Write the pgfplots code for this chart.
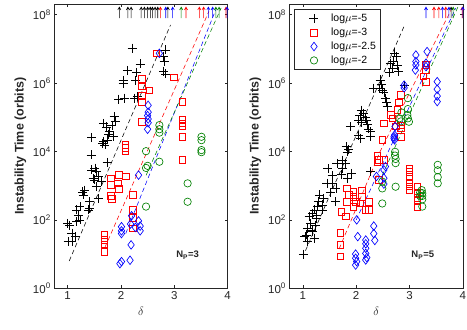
\documentclass[border=0pt]{standalone}
\usepackage{fontspec}
\setmainfont{Liberation Sans}
\usepackage{pgfplots}
\pgfplotsset{compat=1.18}

\definecolor{mgreen}{rgb}{0,0.5,0}
\definecolor{axgray}{rgb}{0.15,0.15,0.15}

% up arrow for runs that never went unstable
\pgfdeclareplotmark{uarrow}{%
  \pgfpathmoveto{\pgfqpoint{0pt}{-5.5pt}}%
  \pgfpathlineto{\pgfqpoint{0pt}{5.5pt}}%
  \pgfpathmoveto{\pgfqpoint{-1.6pt}{2.6pt}}%
  \pgfpathlineto{\pgfqpoint{0pt}{5.5pt}}%
  \pgfpathlineto{\pgfqpoint{1.6pt}{2.6pt}}%
  \pgfusepathqstroke}

\pgfplotsset{
  mypanel/.style={
    scale only axis, width=173.3pt, height=284.3pt,
    xmin=0.75, xmax=4, ymin=1, ymax=2.05e8,
    xtick={1,2,3,4}, xticklabels={1,2,3,4},
    ytick={1,1e2,1e4,1e6,1e8},
    yticklabels={10\textsuperscript{0},10\textsuperscript{2},10\textsuperscript{4},10\textsuperscript{6},10\textsuperscript{8}},
    yminorticks=false, xminorticks=false,
    tick align=inside, major tick length=3pt,
    axis line style={axgray, line width=0.5pt},
    tick style={axgray, line width=0.5pt},
    ticklabel style={font=\fontsize{11.5}{13}\selectfont, text=axgray},
    xlabel={$\delta$},
    ylabel={\textbf{Instability Time (orbits)}},
    xlabel style={font=\fontsize{12}{14}\selectfont, text=axgray},
    ylabel style={font=\fontsize{12.5}{14}\selectfont, text=axgray},
  },
  mklegimg/.style={legend image code/.code={\path (0cm,0cm) (1.12cm,0cm); \draw[##1] plot coordinates {(0.6cm,0cm)};}},
  mkK/.style={only marks, mark=+, mark size=4.5pt, color=black, line width=0.65pt, mklegimg},
  mkR/.style={only marks, mark=square, mark size=3.3pt, color=red, line width=0.65pt, mklegimg},
  mkB/.style={only marks, mark=diamond, mark size=4.3pt, color=blue, line width=0.65pt, mklegimg},
  mkG/.style={only marks, mark=o, mark size=3.7pt, color=mgreen, line width=0.65pt, mklegimg},
  fitline/.style={line width=0.55pt, dash pattern=on 4.5pt off 3pt, forget plot},
  uparr/.style={only marks, mark=uarrow, line width=0.55pt, forget plot},
}

\begin{document}
\begin{tikzpicture}
% ---------------- N_P = 3 ----------------
\begin{axis}[ymode=log, mypanel, name=L]
\addplot[mkK] coordinates {
(2.21,1.05e7) (2.36,3.63e6) (2.12,2.34e6) (2.29,2.04e6) (2.04,1.2e6) (2.04,1.0e6)
(2.27,1.2e6) (1.96,3.39e5) (2.06,3.63e5) (2.25,3.63e5) (2.31,3.98e5) (2.83,9.33e6)
(2.80,6.17e6) (2.81,4.27e6) (2.80,2.24e6) (2.84,1.86e6)
(1.67,6.61e4) (1.87,1.05e5) (1.89,7.41e4) (1.83,5.89e4) (1.73,5.25e4) (1.45,2.57e4)
(1.79,3.80e4) (1.77,3.16e4) (1.67,1.95e4) (1.70,1.55e4) (1.86,2.69e4) (1.75,2.19e4)
(1.66,1.74e4) (1.44,7.94e3) (1.74,4.8e3) (1.45,2.88e3) (1.51,3.24e3) (1.54,2.57e3)
(1.57,1.82e3) (1.48,1.66e3) (1.64,1.32e3) (1.50,1.48e3) (1.54,933) (1.57,427)
(1.32,741) (1.29,537) (1.28,661) (1.41,339) (1.41,219) (1.23,245) (1.17,195)
(1.39,195) (1.20,138) (1.23,100) (1.04,70.8) (1.17,89.1) (1.00,79.4) (1.08,40.7)
(1.01,22.9) (1.08,22.9) (1.14,32.4)
};
\addplot[mkR] coordinates {
(2.66,7.41e6) (2.99,1.48e6) (2.39,1.32e6) (2.39,7.94e5) (2.53,6.17e5) (2.39,4.17e5)
(2.39,2.88e5) (3.15,2.88e5) (2.39,7.41e4) (3.15,8.32e4) (3.15,6.61e4) (3.15,5.62e4)
(3.15,2.69e4) (2.08,1.55e4) (2.08,1.26e4) (2.08,1.0e4) (3.15,5.62e3) (1.81,1.66e3)
(1.96,2.04e3) (2.09,1.86e3) (1.81,1.07e3) (1.94,1.17e3) (1.96,794) (1.81,501)
(1.83,417) (2.22,537) (2.22,195) (2.22,117) (2.22,56.2) (1.69,36.3) (1.69,25.7)
(1.69,19.1) (1.69,11.7)
};
\addplot[mkB] coordinates {
(2.72,7.41e6) (2.51,2.24e5) (2.51,1.41e5) (2.50,1.12e5) (2.51,8.91e4) (2.51,6.92e4)
(2.50,4.47e4) (2.33,2.04e3) (2.20,132) (2.01,63.1) (2.01,47.9) (2.01,39.8) (2.18,75.9)
(2.33,93.3) (2.36,66.1) (2.36,47.9) (2.27,60.3) (2.19,18.6) (1.98,5.25) (2.01,6.03)
(2.17,6.61)
};
\addplot[mkG] coordinates {
(2.72,5.89e4) (2.72,4.47e4) (2.72,3.55e4) (3.51,2.69e4) (3.51,2.14e4) (3.51,1.10e4)
(3.51,9.55e3) (2.47,1.02e4) (2.72,5.01e3) (2.50,3.80e3) (2.47,3.31e3) (3.25,1.17e3)
(3.25,339) (2.47,245)
};
\addplot[fitline, black] coordinates {(1.03,6.31) (2.93,5.01e7)};
\addplot[fitline, red] coordinates {(1.70,15.8) (3.65,1.26e8)};
\addplot[fitline, blue] coordinates {(2.09,39.8) (3.78,1.41e8)};
\addplot[fitline, mgreen] coordinates {(2.47,2.0e3) (3.88,1.58e8)};
\addplot[uparr, black] coordinates {
(1.97,1.15e8) (2.13,1.15e8) (2.19,1.15e8) (2.38,1.15e8) (2.44,1.15e8) (2.50,1.15e8)
(2.55,1.15e8) (2.59,1.15e8) (2.64,1.15e8) (2.69,1.15e8) (2.88,1.15e8)};
\addplot[uparr, red] coordinates {
(2.74,1.15e8) (3.22,1.15e8) (3.47,1.15e8) (3.55,1.15e8) (3.97,1.15e8)};
\addplot[uparr, blue] coordinates {
(2.84,1.15e8) (2.97,1.15e8) (3.64,1.15e8) (3.72,1.15e8) (3.99,1.15e8)};
\addplot[uparr, mgreen] coordinates {
(3.13,1.15e8) (3.78,1.15e8) (3.84,1.15e8)};
\node[font=\bfseries\fontsize{9.5}{11}\selectfont, text=axgray] at (axis cs:3.25,9.3) {N\textsubscript{P}=3};
\end{axis}

% ---------------- N_P = 5 ----------------
\begin{axis}[ymode=log, mypanel, name=R, at={(235.2pt,0pt)},
  legend style={at={(0.028,0.981)}, anchor=north west, draw=axgray, line width=0.5pt,
    font=\fontsize{10.5}{12}\selectfont, inner xsep=2pt, inner ysep=2.5pt, row sep=0.8pt},
  legend cell align=left]
\addplot[mkK] coordinates {
(2.72,7.59e6) (2.75,6.03e6) (2.70,4.47e6) (2.64,3.80e6) (2.77,3.31e6) (2.68,2.63e6)
(2.80,2.24e6) (2.63,2.0e6) (2.45,1.23e6) (2.47,9.33e5) (2.43,7.08e5) (2.49,6.31e5)
(2.33,7.08e5) (2.52,5.25e5) (2.90,8.32e5) (2.55,3.63e5) (2.57,2.82e5) (2.58,2.04e5)
(2.10,1.62e5) (2.13,1.29e5) (2.07,1.12e5) (2.17,9.77e4) (2.05,8.32e4) (2.10,7.08e4)
(2.19,7.94e4) (2.21,6.03e4) (2.23,4.57e4) (1.89,5.37e4) (2.27,2.69e4) (2.26,3.80e4)
(2.05,3.02e4) (2.08,2.40e4) (1.81,1.38e4) (1.83,9.77e3) (1.86,1.12e4) (1.74,5.62e3)
(1.64,4.47e3) (1.80,4.47e3) (1.75,3.16e3) (1.72,2.14e3) (1.91,2.29e3) (1.84,1.66e3)
(2.27,2.57e3) (1.47,3.16e3) (1.55,2.0e3) (1.45,1.17e3) (1.55,1.17e3) (1.62,832)
(1.52,631) (1.61,339) (1.31,537) (1.39,427) (1.29,339) (1.37,275) (1.28,245)
(1.21,195) (1.36,195) (1.18,155) (1.26,138) (1.25,112) (1.12,123) (1.14,79.4)
(1.23,70.8) (1.09,56.2) (1.17,50.1) (1.18,45.7) (1.06,36.3) (1.04,32.4) (1.08,22.9)
(1.21,28.8) (1.01,10)
};
\addlegendentry{log$\mu$=-5}
\addplot[mkR] coordinates {
(3.31,3.39e6) (3.31,2.40e6) (3.26,1.58e6) (3.31,1.10e6) (2.84,4.47e5) (2.80,2.75e5)
(2.77,1.62e5) (2.65,1.17e5) (2.68,9.33e4) (2.52,6.61e4) (2.84,5.89e4) (2.84,4.79e4)
(2.74,5.37e4) (2.84,2.69e4) (2.49,2.19e4) (2.40,7.59e3) (2.43,5.62e3) (2.52,5.62e3)
(2.40,4.79e3) (2.43,1.48e3) (3.00,3.24e3) (3.00,2.51e3) (3.00,1.78e3) (3.00,1.26e3)
(3.00,955) (3.00,741) (3.15,933) (3.15,631) (3.15,447) (3.15,355) (3.15,245)
(1.83,832) (1.86,537) (1.83,339) (1.95,661) (1.95,479) (1.99,339) (1.95,245)
(2.11,741) (2.11,479) (2.08,302) (2.17,195) (2.24,339) (2.24,195) (1.72,174)
(1.81,126) (1.70,42.7) (1.70,18.6) (1.70,8.51)
};
\addlegendentry{log$\mu$=-3}
\addplot[mkB] coordinates {
(3.12,6.61e6) (3.33,8.32e6) (3.12,4.27e6) (3.12,3.39e6) (3.11,2.40e6) (3.31,3.80e6)
(3.31,3.02e6) (3.52,1.10e6) (3.52,6.61e5) (3.52,4.17e5) (3.52,2.88e5) (2.90,8.71e5)
(2.90,7.24e5) (2.73,5.37e4) (2.72,3.02e4) (2.71,2.69e4) (2.71,2.40e4) (2.72,2.19e4)
(2.52,2.88e3) (2.55,3.63e3) (2.52,1.66e3) (2.52,1.12e3) (2.38,1.86e3) (2.01,100)
(2.33,66.1) (2.03,32.4) (2.18,25.7) (2.18,20.0) (2.33,39.8) (2.35,25.1) (1.99,10)
(1.99,7.59) (2.01,6.03) (1.99,4.79) (2.18,14.8) (2.18,10.5) (2.20,7.94) (2.18,6.76)
};
\addlegendentry{log$\mu$=-2.5}
\addplot[mkG] coordinates {
(2.97,3.63e5) (2.97,1.74e5) (2.96,1.17e5) (2.97,9.33e4) (2.99,7.41e4) (2.85,1.38e5)
(2.81,9.33e4) (2.84,7.59e4) (2.73,9.77e3) (2.73,7.59e3) (2.74,6.03e3) (2.74,4.57e3)
(2.74,933) (2.49,832) (2.49,302) (2.49,1.32e3) (3.53,4.07e3) (3.53,2.82e3)
(3.53,1.78e3) (3.53,1.17e3) (3.23,741) (3.24,603) (3.24,501) (3.24,398) (3.24,245)
(3.20,631) (3.20,501)
};
\addlegendentry{log$\mu$=-2}
\addplot[fitline, black] coordinates {(1.05,12.6) (2.91,5.01e7)};
\addplot[fitline, red] coordinates {(1.68,14.1) (2.45,1.0e4) (3.80,1.58e8)};
\addplot[fitline, blue] coordinates {(2.0,100) (3.87,1.58e8)};
\addplot[fitline, mgreen] coordinates {(2.49,2.0e3) (3.91,1.70e8)};
\addplot[uparr, black] coordinates {(3.78,1.15e8)};
\addplot[uparr, red] coordinates {(3.46,1.15e8) (3.55,1.15e8) (3.68,1.15e8) (3.99,1.15e8)};
\addplot[uparr, blue] coordinates {(3.31,1.15e8) (3.62,1.15e8) (3.74,1.15e8) (4.0,1.15e8)};
\addplot[uparr, mgreen] coordinates {(3.82,1.15e8)};
\node[font=\bfseries\fontsize{9.5}{11}\selectfont, text=axgray] at (axis cs:3.25,9.3) {N\textsubscript{P}=5};
\end{axis}

\pgfresetboundingbox
\path[use as bounding box] ([xshift=-54.3pt,yshift=-41.7pt]L.south west) rectangle ([xshift=412.7pt,yshift=288.3pt]L.south west);
\end{tikzpicture}
\end{document}
